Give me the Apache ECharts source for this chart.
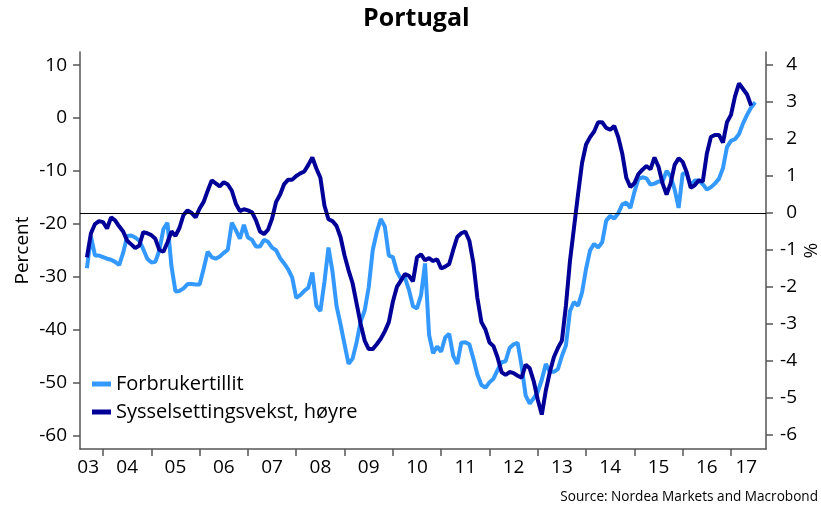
<!DOCTYPE html>
<html>
<head>
<meta charset="utf-8">
<title>Portugal</title>
<script src="https://cdn.jsdelivr.net/npm/echarts@6/dist/echarts.min.js"></script>
<style>
  html, body { margin: 0; padding: 0; background: #fff; }
  #chart { width: 821px; height: 507px; }
</style>
</head>
<body>
<div id="chart"></div>
<script>
// months counted from Jan 2003 = 0; both series start Sep 2003
const firstMonth = 8

// Forbrukertillit (left axis, percent), monthly
const confidence = [
  -28.4, -22.4, -26, -26,
  -26.3, -26.6, -26.8, -27.2, -27.8, -25.5, -22.3, -22.2, -22.6, -23.2, -24.8, -26.6,
  -27.3, -27.2, -25, -21, -19.8, -28, -32.8, -32.7, -32.2, -31.4, -31.4, -31.5,
  -31.5, -28.5, -25.3, -26.3, -26.6, -26.2, -25.5, -24.9, -19.8, -21.2, -22.8, -20.2,
  -22.6, -23, -24.3, -24.3, -23, -23.4, -24.5, -25, -26.5, -27.5, -28.6, -30.2,
  -34, -33.5, -32.7, -32.1, -29.2, -35.5, -36.5, -31, -24.5, -29, -35.5, -39,
  -42.8, -46.5, -45.5, -42.4, -38.5, -36.4, -32, -25, -21.6, -19.1, -20.5, -26,
  -26.3, -29, -30.4, -30.2, -32.5, -35.6, -36, -33.5, -27.5, -41, -44.5, -43.2,
  -44.2, -41.5, -40.8, -45, -46.5, -42.5, -42.4, -42.8, -45.5, -48.5, -50.5, -51,
  -50, -49.3, -47.7, -46.2, -46, -43.5, -42.8, -42.5, -47, -52.5, -54, -53,
  -51.8, -49.5, -46.5, -48, -48, -47.5, -45, -43, -36.5, -34.8, -35.5, -33,
  -28.5, -25, -23.8, -24.5, -23.5, -19.4, -18.5, -19, -18, -16.3, -16, -17,
  -14, -11.5, -11.2, -11.4, -12.6, -12.4, -12, -12, -10, -11, -13.5, -17,
  -10.5, -10.5, -12.8, -11.8, -11.8, -12.5, -13.5, -13.1, -12.4, -11.5, -9.5, -5.5,
  -4.3, -4, -3, -1, 0.6, 2, 3
]

// Sysselsettingsvekst (right axis, %), monthly
const employment = [
  -1.2, -0.55, -0.3, -0.22,
  -0.25, -0.42, -0.12, -0.2, -0.36, -0.5, -0.75, -0.85, -0.95, -0.88, -0.52, -0.55,
  -0.6, -0.7, -1.0, -1.05, -0.8, -0.5, -0.62, -0.4, -0.05, 0.07, 0.0, -0.12,
  0.12, 0.3, 0.6, 0.88, 0.8, 0.72, 0.83, 0.77, 0.6, 0.25, 0.05, 0.1,
  0.07, 0.02, -0.2, -0.5, -0.57, -0.45, -0.15, 0.3, 0.5, 0.78, 0.9, 0.9,
  1.0, 1.07, 1.12, 1.3, 1.5, 1.2, 0.95, 0.2, -0.17, -0.22, -0.35, -0.65,
  -1.15, -1.55, -1.9, -2.45, -3.0, -3.45, -3.68, -3.68, -3.55, -3.4, -3.2, -2.95,
  -2.4, -2.0, -1.83, -1.65, -1.7, -1.85, -1.2, -1.12, -1.28, -1.22, -1.3, -1.25,
  -1.5, -1.45, -1.38, -1.0, -0.65, -0.55, -0.5, -0.75, -1.35, -2.3, -2.95, -3.15,
  -3.5, -3.6, -3.9, -4.3, -4.38, -4.3, -4.33, -4.4, -4.45, -4.1, -4.2, -4.55,
  -5.05, -5.45, -4.8, -4.3, -3.9, -3.65, -3.45, -2.5, -1.3, -0.4, 0.5, 1.35,
  1.85, 2.05, 2.2, 2.45, 2.45, 2.3, 2.25, 2.35, 2.05, 1.6, 0.95, 0.7,
  0.8, 1.05, 1.17, 1.27, 1.18, 1.5, 1.25, 0.8, 0.5, 0.8, 1.3, 1.48,
  1.38, 1.1, 0.68, 0.75, 0.88, 0.85, 1.6, 2.05, 2.11, 2.11, 1.9, 2.45,
  2.65, 3.15, 3.5, 3.35, 3.2, 2.9
]

const yearLabels = ['03','04','05','06','07','08','09','10','11','12','13','14','15','16','17']
const leftTicks = [-60, -50, -40, -30, -20, -10, 0, 10]
const rightTicks = [-6, -5, -4, -3, -2, -1, 0, 1, 2, 3, 4]

// ticks at each new year, labels mid-year (first/last pulled inside the axis)
const yearTicks = yearLabels.slice(1).map((y, i) => (i + 1) * 12)
const labelPos = yearLabels.map((y, i) => Math.min(Math.max(i * 12 + 6, 8.3), 171.8))

const font = 'Open Sans'
const axisColor = '#555'

let chart = echarts.init(document.getElementById('chart'))

let option = {
  animation: false,
  textStyle: { fontFamily: font },
  title: [{
    text: 'Portugal',
    left: 363,
    top: 6,
    padding: 0,
    textStyle: { fontFamily: font, fontSize: 25, fontWeight: 'bold', color: '#000' }
  }, {
    text: 'Source: Nordea Markets and Macrobond',
    right: 3,
    bottom: 3,
    padding: 0,
    textStyle: { fontFamily: font, fontSize: 13.6, fontWeight: 'normal', color: '#000' }
  }],
  grid: { left: 80, right: 55, top: 52, bottom: 58, containLabel: false, outerBoundsMode: 'none' },
  legend: {
    orient: 'vertical',
    left: 92,
    top: 373,
    padding: 0,
    itemGap: 6,
    itemWidth: 19,
    itemHeight: 5,
    icon: 'rect',
    textStyle: { fontFamily: font, fontSize: 20, color: '#000', lineHeight: 22 },
    data: ['Forbrukertillit', 'Sysselsettingsvekst, høyre']
  },
  xAxis: {
    type: 'value',
    min: 6.28,
    max: 176.7,
    splitLine: { show: false },
    axisLine: { onZero: false, lineStyle: { color: axisColor, width: 1.5 } },
    axisTick: { customValues: yearTicks, length: 7, lineStyle: { color: axisColor, width: 1.5 } },
    axisLabel: {
      customValues: labelPos,
      margin: 9,
      fontSize: 19,
      color: '#000',
      formatter: v => yearLabels[Math.round((v - 6) / 12)]
    }
  },
  yAxis: [{
    type: 'value',
    min: -62.6,
    max: 12.5,
    name: 'Percent',
    nameLocation: 'middle',
    nameGap: 48,
    nameMoveOverlap: false,
    nameTextStyle: { fontSize: 19, color: '#000' },
    splitLine: { show: false },
    axisLine: { show: true, onZero: false, lineStyle: { color: axisColor, width: 1.5 } },
    axisTick: { show: true, customValues: leftTicks, length: 7, lineStyle: { color: axisColor, width: 1.5 } },
    axisLabel: { customValues: leftTicks, margin: 13, fontSize: 19, color: '#000' }
  }, {
    type: 'value',
    position: 'right',
    min: -6.38,
    max: 4.35,
    name: '%',
    nameLocation: 'middle',
    nameRotate: -90,
    nameGap: 34,
    nameMoveOverlap: false,
    nameTextStyle: { fontSize: 19, color: '#000' },
    splitLine: { show: false },
    axisLine: { show: true, onZero: false, lineStyle: { color: axisColor, width: 1.5 } },
    axisTick: { show: true, customValues: rightTicks, length: 7, lineStyle: { color: axisColor, width: 1.5 } },
    axisLabel: { customValues: rightTicks, margin: 31, align: 'right', fontSize: 19, color: '#000' }
  }],
  series: [{
    name: 'Forbrukertillit',
    type: 'line',
    yAxisIndex: 0,
    showSymbol: false,
    color: '#3399ff',
    lineStyle: { width: 4, color: '#3399ff' },
    data: confidence.map((v, i) => [firstMonth + i, v])
  }, {
    name: 'Sysselsettingsvekst, høyre',
    type: 'line',
    yAxisIndex: 1,
    showSymbol: false,
    color: '#000099',
    lineStyle: { width: 4, color: '#000099' },
    data: employment.map((v, i) => [firstMonth + i, v]),
    markLine: {
      silent: true,
      symbol: 'none',
      label: { show: false },
      lineStyle: { color: '#000', width: 1, type: 'solid' },
      data: [{ yAxis: 0 }]
    }
  }]
}

chart.setOption(option)
</script>
</body>
</html>
